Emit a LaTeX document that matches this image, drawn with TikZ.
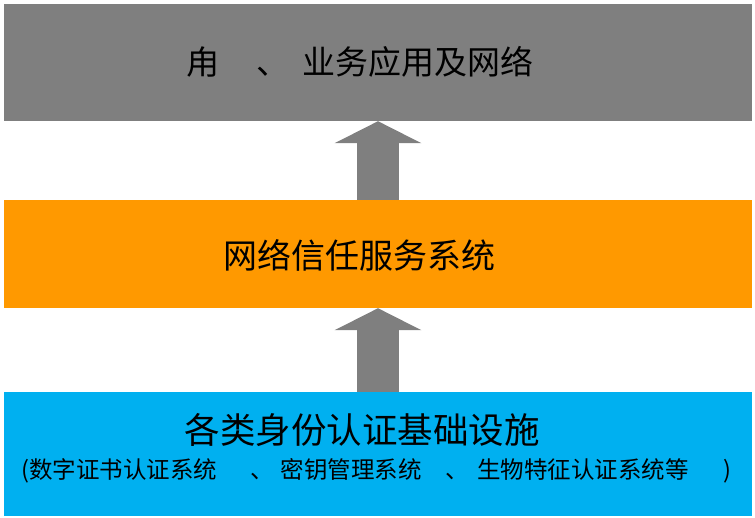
\documentclass[tikz,border=0pt]{standalone}
\usepackage{fontspec}
\setmainfont{Noto Sans CJK SC}
\usetikzlibrary{arrows.meta}

\definecolor{layergray}{HTML}{7F7F7F}
\definecolor{layerorange}{HTML}{FF9900}
\definecolor{layerblue}{HTML}{00B0F0}

\begin{document}
\begin{tikzpicture}[x=1pt,y=-1pt]

% Define box width and arrow sizes
\def\boxwidth{748pt}
% Define layer style
\tikzset{layer/.style={
        rectangle, inner sep=0pt, minimum width=\boxwidth}, % Full-width band
        uparrow/.style={
        draw=layergray, line width=42pt,
        -{Triangle[width=86pt, length=22pt]}}
        }

% Picture frame (keeps the margins)
\useasboundingbox (0,0) rectangle (755,517);

% Top layer
\node[layer, fill=layergray, minimum height=117pt] (apps) at (378,62.5) {};
\node[font=\fontsize{33}{36}\selectfont] (appstext) at (360,62)
      {甪\hspace{1.1em}、\hspace{0.4em}业务应用及网络};

% Middle layer
\node[layer, fill=layerorange, minimum height=108pt] (trust) at (378,254) {};
\node[font=\fontsize{34}{38}\selectfont] (trusttext) at (359,255) {网络信任服务系统};

% Bottom layer
\node[layer, fill=layerblue, minimum height=124pt] (infra) at (378,454) {};
\node[font=\fontsize{35.5}{40}\selectfont] (infratext) at (362,430) {各类身份认证基础设施};
\node[font=\fontsize{23.5}{26}\selectfont, anchor=west] (infrasub) at (18,471)
      {(数字证书认证系统\hspace{1.4em}、\hspace{0.3em}密钥管理系统\hspace{1.0em}、\hspace{0.35em}生物特征认证系统等\hspace{1.5em})};

% Arrows between layers
\draw[uparrow] (trust.north) -- (apps.south);
\draw[uparrow] (infra.north) -- (trust.south);

\end{tikzpicture}
\end{document}
